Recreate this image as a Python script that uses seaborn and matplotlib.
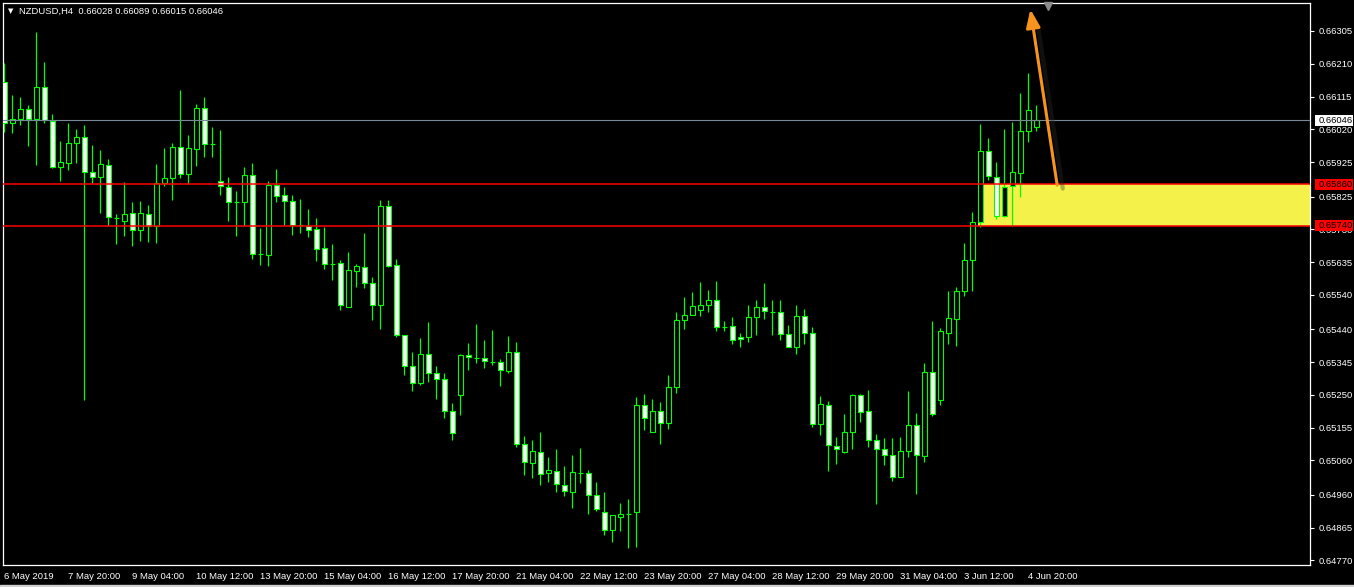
import matplotlib
matplotlib.use("Agg")
import matplotlib.pyplot as plt
import matplotlib.transforms as mtransforms
from matplotlib.patches import Rectangle
import seaborn as sns
import pandas as pd
import numpy as np

# NZDUSD H4 candles
symbol = "NZDUSD,H4"

opens = [0.66157, 0.66038, 0.66050, 0.66079, 0.66050, 0.66143, 0.66044, 0.65911, 0.65922, 0.65980,
         0.65998, 0.65896, 0.65882, 0.65917, 0.65763, 0.65754, 0.65777, 0.65728, 0.65774, 0.65740,
         0.65864, 0.65879, 0.65969, 0.65890, 0.65963, 0.66082, 0.65977, 0.65870, 0.65853, 0.65809,
         0.65809, 0.65888, 0.65658, 0.65656, 0.65859, 0.65830, 0.65812, 0.65743, 0.65740, 0.65731,
         0.65676, 0.65629, 0.65632, 0.65505, 0.65609, 0.65621, 0.65574, 0.65510, 0.65798, 0.65627,
         0.65424, 0.65334, 0.65284, 0.65368, 0.65313, 0.65296, 0.65203, 0.65250, 0.65365, 0.65357,
         0.65357, 0.65345, 0.65345, 0.65319, 0.65374, 0.65107, 0.65052, 0.65084, 0.65023, 0.65029,
         0.64988, 0.64968, 0.65023, 0.65023, 0.64960, 0.64910, 0.64858, 0.64896, 0.64904, 0.64910,
         0.65221, 0.65142, 0.65203, 0.65168, 0.65273, 0.65467, 0.65482, 0.65496, 0.65510, 0.65525,
         0.65447, 0.65450, 0.65418, 0.65418, 0.65476, 0.65505, 0.65490, 0.65490, 0.65426, 0.65389,
         0.65479, 0.65429, 0.65165, 0.65221, 0.65102, 0.65084, 0.65142, 0.65250, 0.65203, 0.65119,
         0.65093, 0.65076, 0.65012, 0.65087, 0.65163, 0.65073, 0.65316, 0.65235, 0.65429, 0.65470,
         0.65551, 0.65641, 0.65751, 0.65957, 0.65882, 0.65769, 0.65856, 0.65893, 0.66015, 0.66028]

highs = [0.66212, 0.66120, 0.66114, 0.66091, 0.66302, 0.66215, 0.66064, 0.65986, 0.66038, 0.66021,
         0.66033, 0.65975, 0.65960, 0.65934, 0.65774, 0.65867, 0.65809, 0.65812, 0.65801, 0.65919,
         0.65966, 0.65980, 0.66134, 0.66004, 0.66093, 0.66114, 0.66027, 0.66018, 0.65882, 0.65841,
         0.65911, 0.65922, 0.65734, 0.65870, 0.65905, 0.65853, 0.65830, 0.65818, 0.65789, 0.65763,
         0.65737, 0.65687, 0.65641, 0.65664, 0.65629, 0.65719, 0.65592, 0.65815, 0.65815, 0.65644,
         0.65424, 0.65374, 0.65415, 0.65461, 0.65334, 0.65313, 0.65226, 0.65368, 0.65400, 0.65455,
         0.65409, 0.65438, 0.65354, 0.65421, 0.65403, 0.65131, 0.65119, 0.65142, 0.65070, 0.65093,
         0.65044, 0.65076, 0.65096, 0.65032, 0.64997, 0.64968, 0.64902, 0.64936, 0.64948, 0.65244,
         0.65252, 0.65238, 0.65229, 0.65308, 0.65490, 0.65534, 0.65548, 0.65577, 0.65554, 0.65580,
         0.65464, 0.65476, 0.65429, 0.65510, 0.65525, 0.65574, 0.65525, 0.65525, 0.65452, 0.65510,
         0.65499, 0.65447, 0.65247, 0.65232, 0.65128, 0.65194, 0.65252, 0.65252, 0.65264, 0.65136,
         0.65125, 0.65125, 0.65128, 0.65261, 0.65197, 0.65342, 0.65464, 0.65444, 0.65551, 0.65563,
         0.65690, 0.65780, 0.66035, 0.65995, 0.65925, 0.66021, 0.66041, 0.66125, 0.66183, 0.66089]

lows = [0.66012, 0.66009, 0.66033, 0.65972, 0.65917, 0.66038, 0.65908, 0.65870, 0.65902, 0.65922,
        0.65235, 0.65864, 0.65777, 0.65740, 0.65687, 0.65711, 0.65682, 0.65696, 0.65693, 0.65690,
        0.65856, 0.65815, 0.65879, 0.65861, 0.65914, 0.65940, 0.65940, 0.65830, 0.65754, 0.65711,
        0.65740, 0.65644, 0.65627, 0.65624, 0.65809, 0.65743, 0.65714, 0.65719, 0.65708, 0.65638,
        0.65615, 0.65583, 0.65496, 0.65505, 0.65563, 0.65560, 0.65467, 0.65441, 0.65622, 0.65418,
        0.65308, 0.65261, 0.65279, 0.65287, 0.65238, 0.65183, 0.65119, 0.65191, 0.65322, 0.65342,
        0.65328, 0.65336, 0.65276, 0.65313, 0.65099, 0.65017, 0.65009, 0.64988, 0.64997, 0.64968,
        0.64957, 0.64922, 0.64994, 0.64904, 0.64913, 0.64844, 0.64823, 0.64855, 0.64806, 0.64809,
        0.65148, 0.65142, 0.65107, 0.65151, 0.65255, 0.65441, 0.65481, 0.65479, 0.65490, 0.65435,
        0.65435, 0.65397, 0.65389, 0.65403, 0.65424, 0.65470, 0.65424, 0.65409, 0.65388, 0.65368,
        0.65397, 0.65157, 0.65133, 0.65029, 0.65049, 0.65081, 0.65093, 0.65171, 0.65099, 0.64933,
        0.65047, 0.65000, 0.65011, 0.65070, 0.64962, 0.65055, 0.65189, 0.65221, 0.65397, 0.65392,
        0.65537, 0.65551, 0.65737, 0.65873, 0.65760, 0.65766, 0.65740, 0.65824, 0.65983, 0.66015]

closes = [0.66038, 0.66050, 0.66079, 0.66050, 0.66143, 0.66047, 0.65911, 0.65925, 0.65980, 0.65998,
          0.65896, 0.65882, 0.65919, 0.65766, 0.65762, 0.65774, 0.65728, 0.65777, 0.65740, 0.65864,
          0.65879, 0.65969, 0.65890, 0.65966, 0.66082, 0.65977, 0.65976, 0.65856, 0.65809, 0.65808,
          0.65888, 0.65658, 0.65657, 0.65859, 0.65827, 0.65812, 0.65743, 0.65742, 0.65728, 0.65673,
          0.65629, 0.65628, 0.65510, 0.65612, 0.65624, 0.65574, 0.65510, 0.65798, 0.65624, 0.65424,
          0.65334, 0.65284, 0.65368, 0.65313, 0.65296, 0.65203, 0.65139, 0.65365, 0.65360, 0.65356,
          0.65348, 0.65344, 0.65322, 0.65374, 0.65107, 0.65055, 0.65087, 0.65020, 0.65032, 0.64991,
          0.64971, 0.65026, 0.65022, 0.64960, 0.64919, 0.64858, 0.64902, 0.64904, 0.64905, 0.65221,
          0.65183, 0.65203, 0.65168, 0.65273, 0.65467, 0.65482, 0.65508, 0.65510, 0.65525, 0.65447,
          0.65446, 0.65409, 0.65412, 0.65476, 0.65505, 0.65493, 0.65489, 0.65426, 0.65389, 0.65479,
          0.65429, 0.65165, 0.65223, 0.65105, 0.65093, 0.65142, 0.65250, 0.65200, 0.65119, 0.65093,
          0.65076, 0.65012, 0.65087, 0.65163, 0.65076, 0.65316, 0.65194, 0.65435, 0.65473, 0.65551,
          0.65641, 0.65751, 0.65957, 0.65885, 0.65769, 0.65853, 0.65896, 0.66015, 0.66076, 0.66046]

time_label_bars = [0, 8, 16, 24, 32, 40, 48, 56, 64, 72, 80, 88, 96, 104, 112, 120, 128]
time_labels = ["6 May 2019", "7 May 20:00", "9 May 04:00", "10 May 12:00", "13 May 20:00",
               "15 May 04:00", "16 May 12:00", "17 May 20:00", "21 May 04:00", "22 May 12:00",
               "23 May 20:00", "27 May 04:00", "28 May 12:00", "29 May 20:00", "31 May 04:00",
               "3 Jun 12:00", "4 Jun 20:00"]

price_ticks = [0.66305, 0.66210, 0.66115, 0.66020, 0.65925, 0.65825, 0.65730, 0.65635, 0.65540,
               0.65440, 0.65345, 0.65250, 0.65155, 0.65060, 0.64960, 0.64865, 0.64770]

current_price = 0.66046
zone_top = 0.65860
zone_bottom = 0.65740
zone_start_bar = 121.75
arrow_tail = (131.6, 0.65858)
arrow_head = (128.25, 0.66368)

df = pd.DataFrame({"open": opens, "high": highs, "low": lows, "close": closes})
df["bar"] = np.arange(len(df))
df["bull"] = df["close"] > df["open"]

sns.set_theme(style="dark", rc={"axes.facecolor": "black", "figure.facecolor": "black",
                                "axes.edgecolor": "white", "text.color": "white",
                                "xtick.color": "white", "ytick.color": "white"})
plt.rcParams["font.family"] = ["Liberation Sans", "DejaVu Sans"]

W, H = 1354, 587
fig = plt.figure(figsize=(W / 100, H / 100), dpi=100)
ax = fig.add_axes([3 / W, 22 / H, 1307 / W, 562 / H])
ax.set_facecolor("black")
ax.grid(False)

green = "#00FF00"

# zone rectangle behind the candles
ax.fill_between([zone_start_bar, 200], zone_bottom, zone_top, color="#F4F24A", lw=0, zorder=1)

# wicks + bodies
ax.vlines(df["bar"], df["low"], df["high"], color=green, lw=0.9, zorder=3)
body_bottom = df[["open", "close"]].min(axis=1)
body_height = (df["close"] - df["open"]).abs()
face = np.where(df["bull"], "black", "white")
ax.bar(df["bar"], body_height, bottom=body_bottom, width=0.58, color=face,
       edgecolor=green, linewidth=0.8, zorder=4)

# horizontal levels
ax.axhline(current_price, color="#778899", lw=0.8, zorder=5)
ax.axhline(zone_top, color="#FF0000", lw=1.1, zorder=5)
ax.axhline(zone_bottom, color="#FF0000", lw=1.1, zorder=5)

# arrow with a faint shadow
shadow_dx = 0.7
ax.annotate("", xy=(arrow_head[0] + shadow_dx, arrow_head[1] - 0.00010),
            xytext=(arrow_tail[0] + shadow_dx, arrow_tail[1] - 0.00010),
            arrowprops=dict(arrowstyle="-", color="#303030", lw=3, alpha=0.35,
                            shrinkA=0, shrinkB=12), zorder=7)
ax.annotate("", xy=arrow_head, xytext=arrow_tail,
            arrowprops=dict(arrowstyle="-|>,head_length=0.9,head_width=0.35", color="#F7941D",
                            lw=2.2, shrinkA=0, shrinkB=0, mutation_scale=12), zorder=8)

ax.set_xlim(-0.16, 163.2)
ax.set_ylim(0.647564, 0.663862)

for s in ax.spines.values():
    s.set_color("white")
    s.set_linewidth(0.9)

ax.yaxis.tick_right()
ax.set_yticks(price_ticks)
ax.set_yticklabels([f"{v:.5f}" for v in price_ticks])
ax.tick_params(axis="y", colors="white", length=3, width=0.8, pad=3, labelsize=6.8, direction="out")
ax.set_xticks(time_label_bars)
ax.set_xticklabels(time_labels, ha="left")
ax.tick_params(axis="x", colors="white", length=3, width=0.8, pad=2, labelsize=6.8, direction="out")

# price labels on the right axis
trans = mtransforms.blended_transform_factory(ax.transAxes, ax.transData)
box_h = 0.00032
for price, fc in [(current_price, "white"), (zone_top, "#FF0000"), (zone_bottom, "#FF0000")]:
    ax.add_patch(Rectangle((1.0035, price - box_h / 2), 0.0295, box_h, transform=trans,
                           facecolor=fc, edgecolor="none", clip_on=False, zorder=10))
    ax.text(1.0067, price, f"{price:.5f}", transform=trans, color="black", fontsize=6.8,
            va="center", ha="left", clip_on=False, zorder=11)

# shift marker at the top
ax.plot([130.4], [0.9955], transform=mtransforms.blended_transform_factory(ax.transData, ax.transAxes),
        marker="v", ms=6, color="#8C8C8C", clip_on=False, zorder=9)

# header
fig.text(8 / W, 1 - 11 / H, "▼", color="white", fontsize=5, va="center", family="DejaVu Sans")
fig.text(19 / W, 1 - 11 / H,
         f"{symbol}  {opens[-1]:.5f} {highs[-1]:.5f} {lows[-1]:.5f} {closes[-1]:.5f}",
         color="white", fontsize=6.8, va="center")

fig.patches.append(Rectangle((0, 0), 1, 2 / H, transform=fig.transFigure, color="#D0D0D0"))

fig.savefig("out.png", dpi=100, facecolor="black")
